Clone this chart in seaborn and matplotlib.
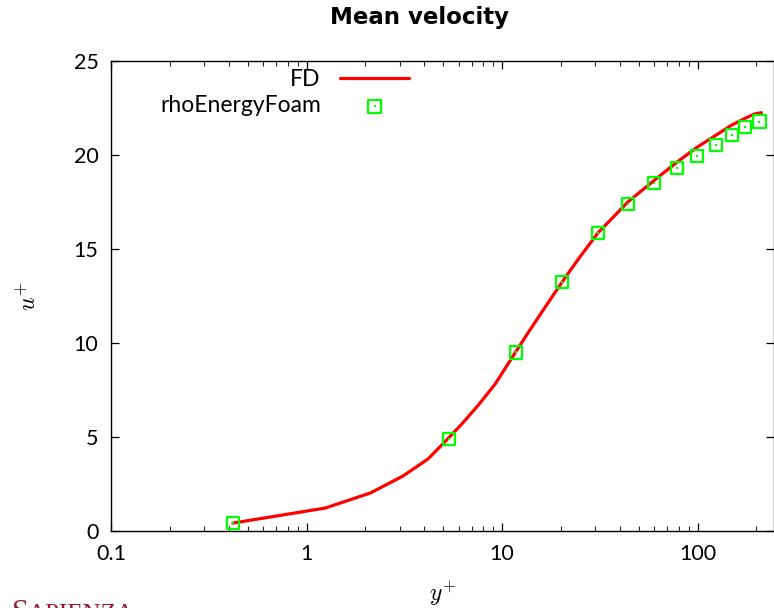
import numpy as np
import pandas as pd
import matplotlib
matplotlib.use("Agg")
import matplotlib.pyplot as plt
import seaborn as sns
from matplotlib.legend_handler import HandlerTuple

# ---- data ----
fd_yplus = [0.42, 1.245, 2.12, 3.12, 4.18, 5.3, 6.3, 7.5, 9.2, 11.7, 13.9,
            16.6, 20.3, 24.5, 30.9, 44.0, 60.0, 78.0, 99.0, 124.0, 150.0, 175.0, 195.0, 212.0]
fd_uplus = [0.42, 1.22, 2.02, 2.93, 3.83, 4.92, 5.75, 6.65, 7.8, 9.5, 10.7,
            11.9, 13.25, 14.45, 15.85, 17.5, 18.65, 19.6, 20.4, 21.05, 21.6, 21.95, 22.18, 22.25]

rho_yplus = [0.42, 5.36, 11.8, 20.3, 31.0, 44.1, 59.8, 78.4, 99.3, 124.0, 150.0, 175.0, 207.0]
rho_uplus = [0.43, 4.9, 9.5, 13.25, 15.85, 17.4, 18.5, 19.3, 19.95, 20.53, 21.07, 21.5, 21.77]

x_ticks = [0.1, 1, 10, 100]
x_ticklabels = ["0.1", "1", "10", "100"]
y_ticks = [0, 5, 10, 15, 20, 25]

fd = pd.DataFrame({"yplus": fd_yplus, "uplus": fd_uplus})
rho = pd.DataFrame({"yplus": rho_yplus, "uplus": rho_uplus})

sns.set_theme(style="ticks")
plt.rcParams["font.family"] = ["Lato", "DejaVu Sans"]
plt.rcParams["mathtext.fontset"] = "cm"
plt.rcParams["text.color"] = "black"
plt.rcParams["axes.labelcolor"] = "black"

W, H = 774, 608
fig = plt.figure(figsize=(W / 100, H / 100), dpi=100)
ax_left, ax_right, ax_top, ax_bot = 111, 774, 61, 531
ax = fig.add_axes([ax_left / W, (H - ax_bot) / H, (ax_right - ax_left) / W, (ax_bot - ax_top) / H])

GREEN = "#00ff00"
RED = "#ff0000"

sns.lineplot(data=fd, x="yplus", y="uplus", ax=ax, color=RED, linewidth=2.3,
             sort=False, errorbar=None)
sq_h = sns.scatterplot(data=rho, x="yplus", y="uplus", ax=ax, marker="s", s=82,
                       facecolors="none", edgecolors=GREEN, linewidths=1.6, zorder=3).collections[-1]
dot_h = sns.scatterplot(data=rho, x="yplus", y="uplus", ax=ax, marker="s", s=3,
                        color=GREEN, linewidth=0, zorder=4).collections[-1]
line_h = ax.lines[0]

ax.set_xscale("log")
ax.set_xlim(0.1, 246)
ax.set_ylim(0, 25)
ax.set_xticks(x_ticks)
ax.set_xticklabels(x_ticklabels)
ax.set_yticks(y_ticks)

for s in ax.spines.values():
    s.set_linewidth(1.0)
    s.set_color("black")
    s.set_visible(True)

ax.tick_params(axis="both", which="major", direction="in", length=6, width=0.9,
               top=True, right=True, labelsize=15.5, colors="black")
ax.tick_params(axis="x", which="minor", direction="in", length=3.5, width=0.8, top=True)
ax.tick_params(axis="x", which="major", pad=9)
ax.tick_params(axis="y", which="major", pad=9)
ax.grid(False)

ax.set_xlabel(r"$y^{+}$", fontsize=17, labelpad=11, color="black")
ax.set_ylabel(r"$u^{+}$", fontsize=17, labelpad=24, color="black")
fig.text(419 / W, (H - 24) / H, "Mean velocity", fontsize=16.5, fontweight="bold",
         family="DejaVu Sans", ha="center", va="baseline", color="black")

# legend (gnuplot style: label right-aligned, sample on the right)
anchor_x = (409 - ax_left) / (ax_right - ax_left)
common = dict(loc="center right", frameon=False, markerfirst=False, fontsize=16.5,
              handlelength=3.0, handletextpad=0.85, borderpad=0, borderaxespad=0,
              labelcolor="black")
leg1 = ax.legend([line_h], ["FD"], bbox_to_anchor=(anchor_x, (ax_bot - 80) / (ax_bot - ax_top)), **common)
ax.add_artist(leg1)
leg2 = ax.legend([(sq_h, dot_h)], ["rhoEnergyFoam"],
                 handler_map={tuple: HandlerTuple(ndivide=1, pad=0)},
                 bbox_to_anchor=(anchor_x, (ax_bot - 106) / (ax_bot - ax_top)), **common)

# logo text at bottom left (cut off, as in the reference)
fig.text(12 / W, -13 / H, "S", fontsize=22, family="Liberation Serif", color="#8f1d2f", va="baseline")
fig.text(28 / W, -13 / H, "APIENZA", fontsize=18, family="Liberation Serif", color="#8f1d2f", va="baseline")

fig.savefig("out.png", dpi=100)
